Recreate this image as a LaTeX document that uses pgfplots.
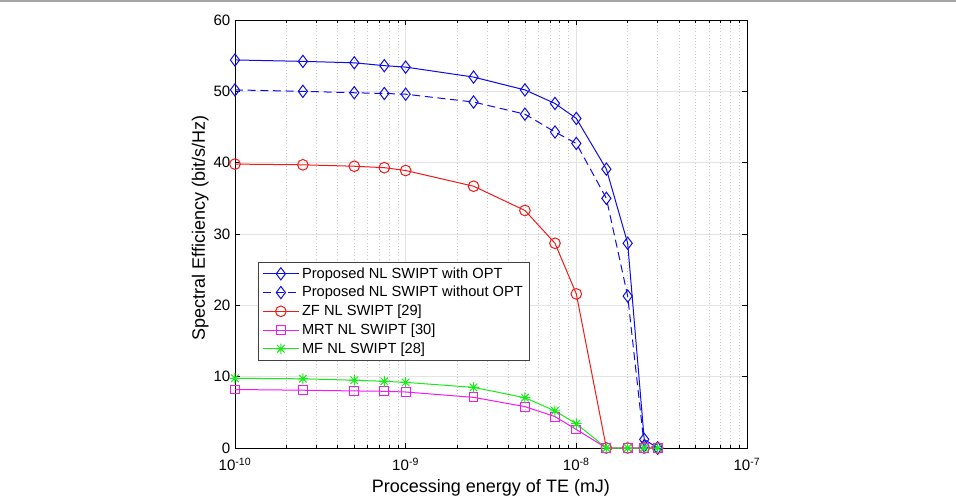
\documentclass[border=0pt]{standalone}
\usepackage{fontspec}
\setmainfont{Liberation Sans}
\usepackage{pgfplots}
\pgfplotsset{compat=1.18}
\definecolor{mblue}{rgb}{0.05,0.05,0.92}
\definecolor{mred}{rgb}{0.95,0.1,0.1}
\definecolor{mmag}{rgb}{0.95,0.1,0.95}
\definecolor{mgreen}{rgb}{0.1,0.92,0.1}
\pgfdeclareplotmark{mstar}{%
 \pgfpathmoveto{\pgfpoint{-\pgfplotmarksize}{0pt}}\pgfpathlineto{\pgfpoint{\pgfplotmarksize}{0pt}}%
 \pgfpathmoveto{\pgfpoint{0pt}{-\pgfplotmarksize}}\pgfpathlineto{\pgfpoint{0pt}{\pgfplotmarksize}}%
 \pgfpathmoveto{\pgfpoint{-.707\pgfplotmarksize}{-.707\pgfplotmarksize}}\pgfpathlineto{\pgfpoint{.707\pgfplotmarksize}{.707\pgfplotmarksize}}%
 \pgfpathmoveto{\pgfpoint{-.707\pgfplotmarksize}{.707\pgfplotmarksize}}\pgfpathlineto{\pgfpoint{.707\pgfplotmarksize}{-.707\pgfplotmarksize}}%
 \pgfusepathqstroke}
\begin{document}
\begin{tikzpicture}
\path[use as bounding box, fill=white] (-176.25pt,-36pt) rectangle (540.75pt,336pt);
\draw[gray!70, line width=1.5pt] (-176.25pt,335.25pt) -- (540.75pt,335.25pt);
\begin{axis}[
 at={(0pt,0pt)}, anchor=south west,
 scale only axis, width=384pt, height=321pt,
 xmode=log, xmin=1e-10, xmax=1e-7, ymin=0, ymax=60,
 ytick={0,10,20,30,40,50,60},
 xtick={1e-10,1e-9,1e-8,1e-7},
 xticklabels={10\textsuperscript{-10},10\textsuperscript{-9},10\textsuperscript{-8},10\textsuperscript{-7}},
 grid=both,
 major grid style={gray!22, line width=0.5pt},
 minor grid style={gray!45, dotted, line width=0.5pt},
 tick align=inside,
 major tick length=4pt, minor tick length=2.5pt,
 axis line style={line width=0.6pt},
 every tick/.style={black, line width=0.5pt},
 ticklabel style={font=\fontsize{11.3}{13}\selectfont},
 xticklabel style={yshift=-4pt},
 label style={font=\fontsize{13.5}{16}\selectfont},
 /pgf/number format/assume math mode=true,
 xlabel={Processing energy of TE (mJ)},
 ylabel={Spectral Efficiency (bit/s/Hz)},
 xlabel style={at={(axis description cs:0.5,-0.094)}, anchor=center},
 ylabel style={at={(axis description cs:-0.068,0.514)}, anchor=center},
 legend style={at={(0.045,0.435)}, anchor=north west, draw=black!75, line width=0.5pt, fill=white,
   font=\fontsize{11}{13}\selectfont, inner xsep=3pt, inner ysep=2pt, row sep=0.6pt},
 legend cell align=left,
 legend image code/.code={\draw[mark repeat=2,mark phase=2,#1] plot coordinates {(0pt,0pt) (13.5pt,0pt) (27pt,0pt)};},
 every axis plot/.append style={line width=0.75pt},
]
\addplot[mblue, mark=diamond, mark size=4.6pt] coordinates {
 (1e-10,54.4) (2.5e-10,54.2) (5e-10,54.0) (7.5e-10,53.6) (1e-9,53.4) (2.5e-9,52.0) (5e-9,50.2) (7.5e-9,48.3) (1e-8,46.2) (1.5e-8,39.1) (2e-8,28.7) (2.5e-8,1.2) (3e-8,0)};
\addlegendentry{Proposed NL SWIPT with OPT}
\addplot[mblue, dash pattern=on 6pt off 3.5pt, mark=diamond, mark size=4.6pt, mark options={solid}] coordinates {
 (1e-10,50.2) (2.5e-10,50.0) (5e-10,49.8) (7.5e-10,49.7) (1e-9,49.6) (2.5e-9,48.5) (5e-9,46.8) (7.5e-9,44.3) (1e-8,42.7) (1.5e-8,35.0) (2e-8,21.3) (2.5e-8,0.3) (3e-8,0)};
\addlegendentry{Proposed NL SWIPT without OPT}
\addplot[mred, mark=o, mark size=4pt] coordinates {
 (1e-10,39.8) (2.5e-10,39.7) (5e-10,39.5) (7.5e-10,39.3) (1e-9,38.9) (2.5e-9,36.7) (5e-9,33.3) (7.5e-9,28.7) (1e-8,21.6) (1.5e-8,0) (2e-8,0) (2.5e-8,0) (3e-8,0)};
\addlegendentry{ZF NL SWIPT [29]}
\addplot[mmag, mark=square, mark size=3.3pt] coordinates {
 (1e-10,8.2) (2.5e-10,8.1) (5e-10,8.0) (7.5e-10,7.95) (1e-9,7.85) (2.5e-9,7.1) (5e-9,5.8) (7.5e-9,4.4) (1e-8,2.6) (1.5e-8,0) (2e-8,0) (2.5e-8,0) (3e-8,0)};
\addlegendentry{MRT NL SWIPT [30]}
\addplot[mgreen, mark=mstar, mark size=4pt] coordinates {
 (1e-10,9.77) (2.5e-10,9.7) (5e-10,9.5) (7.5e-10,9.35) (1e-9,9.2) (2.5e-9,8.5) (5e-9,7.05) (7.5e-9,5.2) (1e-8,3.4) (1.5e-8,0) (2e-8,0) (2.5e-8,0) (3e-8,0)};
\addlegendentry{MF NL SWIPT [28]}
\end{axis}
\end{tikzpicture}
\end{document}
